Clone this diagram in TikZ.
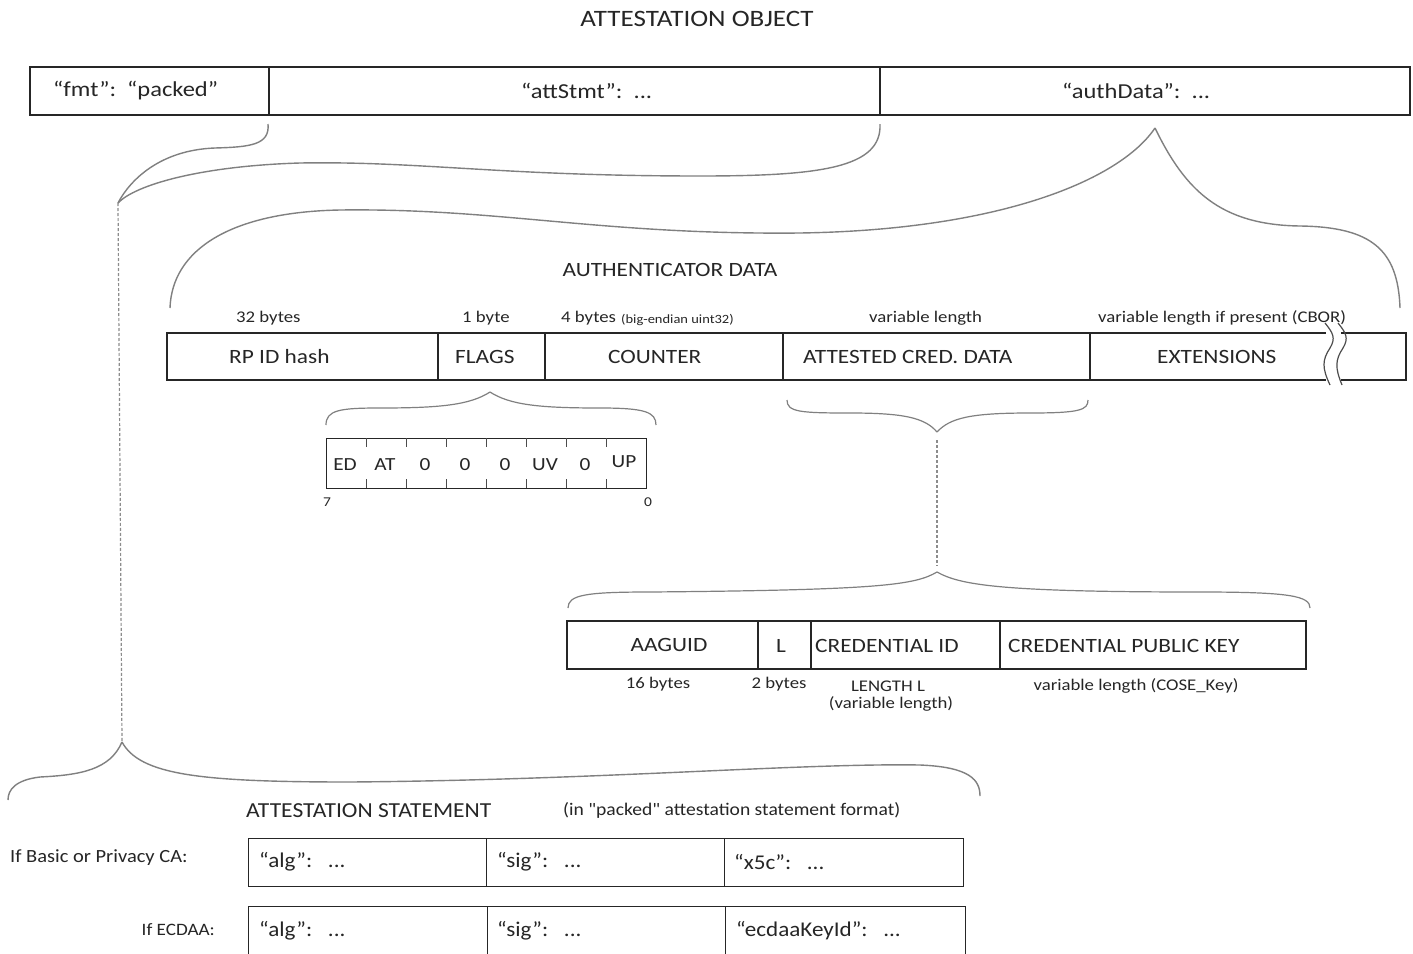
\documentclass[tikz,border=0pt]{standalone}
\usepackage{fontspec}
\setmainfont{Carlito}[FakeStretch=1.15]
\newfontfamily\widefont{Carlito}[FakeStretch=1.1]
\begin{document}
\begin{tikzpicture}[x=1pt,y=-1pt,
  cell/.style={draw=black!85, line width=1.2pt, inner sep=0pt, rectangle},
  brace/.style={draw=black!50, line width=1.4pt},
  dashline/.style={draw=black!45, line width=1.2pt, dash pattern=on 3pt off 2pt},
  tick/.style={draw=black!70, line width=1pt},
  ttl/.style={font=\fontsize{23.5}{26}\selectfont, text=black!85, inner sep=0pt},
  big/.style={font=\fontsize{20.3}{24}\selectfont, text=black!85, inner sep=0pt},
  bar/.style={font=\fontsize{21.3}{24}\selectfont, text=black!85, inner sep=0pt},
  mid/.style={font=\fontsize{18.5}{22}\selectfont, text=black!85, inner sep=0pt},
  sml/.style={font=\fontsize{16.3}{19}\selectfont, text=black!85, inner sep=0pt},
  tiny/.style={font=\fontsize{12.6}{14}\selectfont, text=black!85, inner sep=0pt},
  cond/.style={font=\widefont\fontsize{21.4}{23}\selectfont, text=black!85, inner sep=0pt},
  condcell/.style={font=\widefont\fontsize{21}{23}\selectfont, text=black!85, inner sep=0pt},
  condsm/.style={font=\widefont\fontsize{17.8}{20}\selectfont, text=black!85, inner sep=0pt}
]
\clip (0,0) rectangle (1413,953);
\fill[white] (0,0) rectangle (1413,953);

% title
\node[ttl] (title) at (697,19) {ATTESTATION OBJECT};

% top bar
\node[cell, minimum width=239pt, minimum height=48pt] (fmt) at (149.5,91) {};
\node[cell, minimum width=611pt, minimum height=48pt] (att) at (574.5,91) {};
\node[cell, minimum width=530pt, minimum height=48pt] (auth) at (1145,91) {};
\node[bar, anchor=west] (fmtT) at (53,91) {“fmt”:\ \ “packed”};
\node[bar, anchor=west] (attT) at (521,91) {“attStmt”:\ \ ...};
\node[bar, anchor=west] (authT) at (1062,91) {“authData”:\ \ ...};

% connector coordinates
\coordinate (fmtS) at (268,124);
\coordinate (attS) at (880,124);
\coordinate (junc) at (118,203);
\coordinate (authP) at (1155,128);
\coordinate (adL) at (170,308);
\coordinate (adR) at (1400,308);
\coordinate (stP) at (122,742);

% curves from fmt and attStmt into the junction
\draw[brace] (fmtS) .. controls (270,145) and (250,147) .. (215,148)
  .. controls (160,150) and (130,180) .. (junc);
\draw[brace] (attS) .. controls (882,168) and (820,176) .. (700,176)
  .. controls (500,176) and (420,161) .. (300,163)
  .. controls (200,166) and (135,185) .. (junc);
\draw[dashline] (junc) -- (stP);

% authenticator data brace
\draw[brace] (adL) .. controls (172,250) and (230,212) .. (340,210)
  .. controls (500,208) and (600,235) .. (800,233)
  .. controls (1000,230) and (1120,180) .. (authP);
\draw[brace] (authP) .. controls (1185,190) and (1220,225) .. (1300,226)
  .. controls (1372,227) and (1398,250) .. (adR);

\node[big] (adT) at (670,270) {AUTHENTICATOR DATA};

% authenticator data row
\node[cell, minimum width=271pt, minimum height=47pt] (rp) at (302.5,356.5) {};
\node[cell, minimum width=107pt, minimum height=47pt] (flags) at (491.5,356.5) {};
\node[cell, minimum width=238pt, minimum height=47pt] (counter) at (664,356.5) {};
\node[cell, minimum width=307pt, minimum height=47pt] (cad) at (936.5,356.5) {};
\node[cell, minimum width=316pt, minimum height=47pt] (ext) at (1248,356.5) {};
\node[big, anchor=west] (rpT) at (229,357) {RP ID hash};
\node[big, anchor=west] (flagsT) at (455,357) {FLAGS};
\node[big, anchor=west] (counterT) at (608,357) {COUNTER};
\node[big, anchor=west] (cadT) at (803,357) {ATTESTED CRED. DATA};
\node[big, anchor=west] (extT) at (1157,357) {EXTENSIONS};

\node[sml, anchor=west] (l32) at (236,318) {32 bytes};
\node[sml, anchor=west] (l1) at (462,318) {1 byte};
\node[sml, anchor=west] (l4) at (561,318) {4 bytes};
\node[tiny, anchor=west] (l4b) at (621,320) {(big-endian uint32)};
\node[sml, anchor=west] (lvar) at (869,318) {variable length};
\node[sml, anchor=west] (lext) at (1098,318) {variable length if present (CBOR)};

% break marks in extensions
\fill[white] (1326,330) rectangle (1341,384);
\draw[tick, line width=1.2pt] (1325,323) .. controls (1333,333) and (1336,338) .. (1330,348)
  .. controls (1322,360) and (1322,368) .. (1330,385);
\draw[tick, line width=1.2pt] (1338,323) .. controls (1346,333) and (1349,338) .. (1343,348)
  .. controls (1335,360) and (1335,368) .. (1342,385);

% flags brace
\coordinate (flP) at (490,392);
\draw[brace, line width=1.2pt] (326,425) .. controls (326,410) and (340,408) .. (380,408)
  .. controls (440,408) and (470,405) .. (flP);
\draw[brace, line width=1.2pt] (flP) .. controls (510,405) and (540,408) .. (600,408)
  .. controls (645,408) and (656,412) .. (656,425);

% flags byte
\node[cell, line width=1pt, minimum width=320pt, minimum height=50pt] (fbox) at (486,463) {};
\foreach \i in {1,...,7} {
  \draw[tick] ({326+40*\i},438) -- ({326+40*\i},447);
  \draw[tick] ({326+40*\i},479) -- ({326+40*\i},488);
}
\foreach \t [count=\i from 0] in {ED,AT,0,0,0,UV,0} {
  \node[mid] (fb\i) at ({345+40*\i},465) {\t};
}
\node[mid] (fb7) at (624,462) {UP};
\node[tiny, font=\fontsize{13.5}{15}\selectfont] (b7) at (327,502) {7};
\node[tiny, font=\fontsize{13.5}{15}\selectfont] (b0) at (648,502) {0};

% attested credential data brace
\coordinate (cdP) at (937,432);
\draw[brace, line width=1.2pt] (787,400) .. controls (787,412) and (800,413) .. (850,413)
  .. controls (905,413) and (925,418) .. (cdP);
\draw[brace, line width=1.2pt] (cdP) .. controls (950,418) and (970,413) .. (1030,413)
  .. controls (1080,413) and (1088,410) .. (1088,400);
\coordinate (cdQ) at (937,572);
\draw[dashline] ([yshift=-8pt]cdP) -- ([yshift=6pt]cdQ);
\draw[brace, line width=1.2pt] (568,608) .. controls (568,595) and (585,592) .. (650,592)
  .. controls (880,590) and (915,585) .. (cdQ);
\draw[brace, line width=1.2pt] (cdQ) .. controls (960,585) and (1000,592) .. (1200,592)
  .. controls (1290,592) and (1310,596) .. (1310,608);

% credential row
\node[cell, minimum width=191pt, minimum height=48pt] (aaguid) at (662.5,645) {};
\node[cell, minimum width=53pt, minimum height=48pt] (lcell) at (784.5,645) {};
\node[cell, minimum width=189pt, minimum height=48pt] (credid) at (905.5,645) {};
\node[cell, minimum width=306pt, minimum height=48pt] (pk) at (1153,645) {};
\node[big] (aaguidT) at (669,645) {AAGUID};
\node[big] (lT) at (781,646) {L};
\node[big, anchor=west] (credidT) at (815,646) {CREDENTIAL ID};
\node[big, anchor=west] (pkT) at (1008,646) {CREDENTIAL PUBLIC KEY};
\node[sml] (l16) at (658,684) {16 bytes};
\node[sml] (l2) at (779,684) {2 bytes};
\node[sml] (lL) at (888,686) {LENGTH L};
\node[sml] (lLv) at (891,704) {(variable length)};
\node[sml] (lcose) at (1136,686) {variable length (COSE\_Key)};

% attestation statement brace
\draw[brace] (stP) .. controls (110,770) and (80,775) .. (40,777)
  .. controls (15,780) and (8,790) .. (8,800);
\draw[brace] (stP) .. controls (140,775) and (200,782) .. (350,782)
  .. controls (600,780) and (800,763) .. (920,765)
  .. controls (970,767) and (980,780) .. (980,796);

\node[cond, anchor=west] (stT) at (246,811) {ATTESTATION STATEMENT};
\node[condsm, anchor=west] (stF) at (563,810) {(in "packed" attestation statement format)};

% statement rows
\node[cell, line width=1pt, minimum width=238pt, minimum height=48pt] (r1a) at (367,862) {};
\node[cell, line width=1pt, minimum width=238pt, minimum height=48pt] (r1b) at (605,862) {};
\node[cell, line width=1pt, minimum width=239pt, minimum height=48pt] (r1c) at (843.5,862) {};
\node[cell, line width=1pt, minimum width=239pt, minimum height=56pt] (r2a) at (367.5,934) {};
\node[cell, line width=1pt, minimum width=238pt, minimum height=56pt] (r2b) at (606,934) {};
\node[cell, line width=1pt, minimum width=240pt, minimum height=56pt] (r2c) at (845,934) {};

\node[condsm, font=\widefont\fontsize{18.6}{20}\selectfont, anchor=west] (ifb) at (10,858) {If Basic or Privacy CA:};
\node[condsm, font=\widefont\fontsize{17.4}{20}\selectfont, anchor=east] (ife) at (215,930) {If ECDAA:};
\node[condcell, anchor=west] (t1a) at (259,862) {“alg”:\ \ \ ...};
\node[condcell, anchor=west] (t1b) at (497,862) {“sig”:\ \ \ ...};
\node[condcell, anchor=west] (t1c) at (734,862) {“x5c”:\ \ \ ...};
\node[condcell, anchor=west] (t2a) at (259,931) {“alg”:\ \ \ ...};
\node[condcell, anchor=west] (t2b) at (497,931) {“sig”:\ \ \ ...};
\node[condcell, anchor=west] (t2c) at (736,931) {“ecdaaKeyId”:\ \ \ ...};
\end{tikzpicture}
\end{document}
